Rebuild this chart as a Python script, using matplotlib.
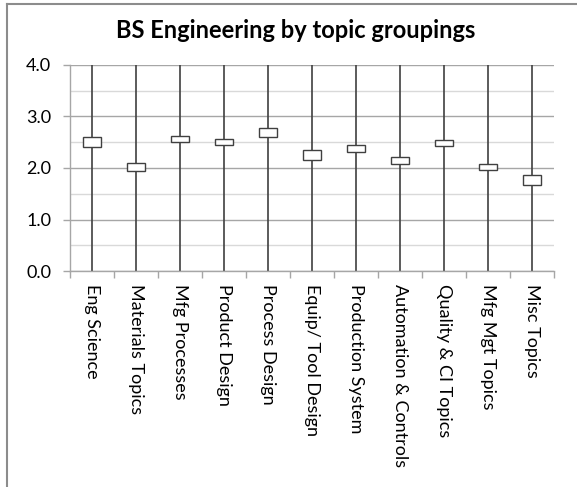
import matplotlib
matplotlib.use("Agg")
import matplotlib.pyplot as plt
from matplotlib.lines import Line2D
from matplotlib.ticker import MultipleLocator, FixedLocator, FormatStrFormatter

categories = ["Eng Science", "Materials Topics", "Mfg Processes", "Product Design",
              "Process Design", "Equip/ Tool Design", "Production System",
              "Automation & Controls", "Quality & CI Topics", "Mfg Mgt Topics",
              "Misc Topics"]
box_low = [2.40, 1.94, 2.50, 2.44, 2.60, 2.16, 2.32, 2.07, 2.42, 1.96, 1.67]
box_high = [2.61, 2.10, 2.63, 2.57, 2.78, 2.34, 2.44, 2.21, 2.54, 2.07, 1.87]
line_low = [0.0] * len(categories)
line_high = [4.0] * len(categories)
y_ticks = [0.0, 1.0, 2.0, 3.0, 4.0]

plt.rcParams['font.family'] = ['Lato', 'DejaVu Sans']

W, H = 577, 487
fig = plt.figure(figsize=(W / 100, H / 100), dpi=100)
fig.patch.set_facecolor('white')

ax = fig.add_axes([70 / W, 1 - 271 / H, (554 - 70) / W, (271 - 65) / H])
x = list(range(len(categories)))

ax.set_ylim(0, 4.0)
ax.set_xlim(-0.5, len(categories) - 0.5)
ax.yaxis.set_major_locator(FixedLocator(y_ticks))
ax.yaxis.set_minor_locator(MultipleLocator(0.5))
ax.yaxis.set_major_formatter(FormatStrFormatter('%.1f'))
ax.grid(axis='y', which='major', color='#a6a6a6', linewidth=1.0, zorder=0)
ax.grid(axis='y', which='minor', color='#d9d9d9', linewidth=1.0, zorder=0)
ax.set_axisbelow(True)

ax.vlines(x, line_low, line_high, colors='#404040', linewidth=1.2, zorder=2)
heights = [h - l for h, l in zip(box_high, box_low)]
ax.bar(x, heights, bottom=box_low, width=0.4, facecolor='white',
       edgecolor='#404040', linewidth=1.0, zorder=3)

for s in ['top', 'right']:
    ax.spines[s].set_visible(False)
for s in ['left', 'bottom']:
    ax.spines[s].set_color('#a6a6a6')
    ax.spines[s].set_linewidth(1.0)

ax.tick_params(axis='y', which='major', direction='out', length=5, width=1,
               color='#a6a6a6', pad=8.5, labelsize=13, labelcolor='black')
ax.tick_params(axis='y', which='minor', length=0)
ax.set_xticks(x)
ax.set_xticklabels(categories, rotation=-90, ha='center', va='top')
ax.tick_params(axis='x', which='major', length=0, pad=9, labelsize=13,
               labelcolor='black')
ax.xaxis.set_minor_locator(FixedLocator([i - 0.5 for i in range(len(categories) + 1)]))
ax.tick_params(axis='x', which='minor', direction='out', length=5, width=1,
               color='#a6a6a6')

fig.text(296 / W, 1 - 30 / H, "BS Engineering by topic groupings",
         ha='center', va='center', fontsize=17, fontweight='bold', color='black')

# chart area border (left and top visible)
fig.add_artist(Line2D([7 / W, 7 / W], [0, 1 - 4 / H], transform=fig.transFigure,
                      color='#8c8c8c', linewidth=1.5))
fig.add_artist(Line2D([7 / W, 1], [1 - 4 / H, 1 - 4 / H], transform=fig.transFigure,
                      color='#8c8c8c', linewidth=1.5))

fig.savefig("out.png", dpi=100, facecolor='white')
